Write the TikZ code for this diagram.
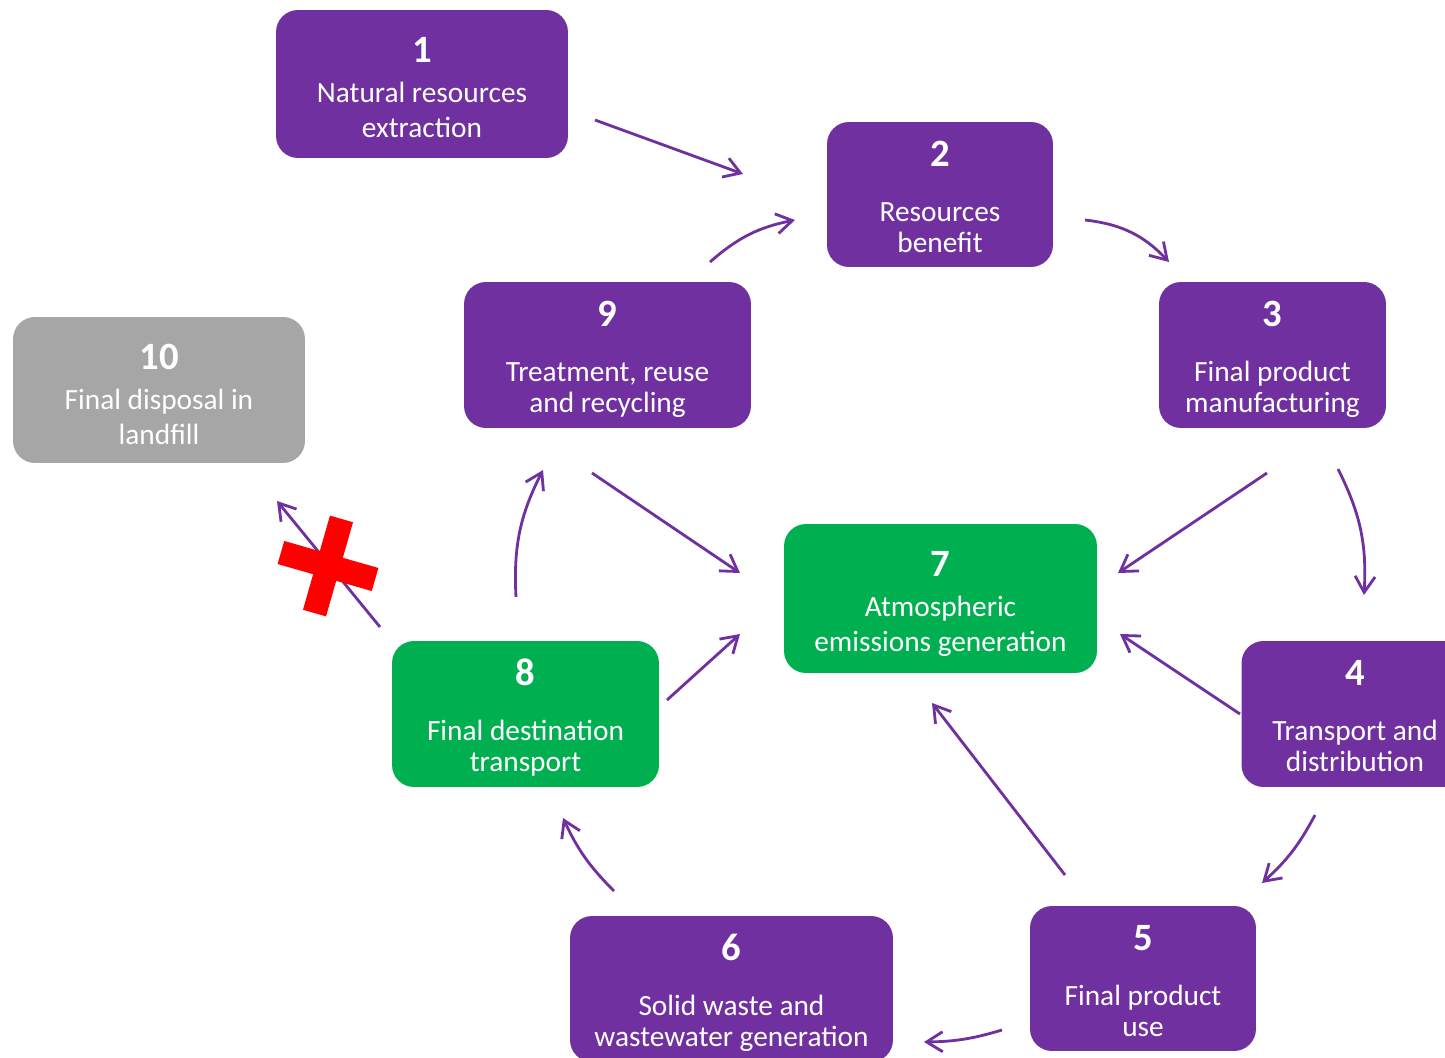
\documentclass[tikz,border=0pt]{standalone}
\usepackage{fontspec}
\setmainfont{Carlito}
\usetikzlibrary{calc, arrows.meta, positioning}
\definecolor{lilac}{HTML}{7030A0}
\definecolor{leaf}{HTML}{00B050}
\definecolor{ash}{HTML}{A6A6A6}

\begin{document}
\begin{tikzpicture}[x=0.02cm, y=-0.02cm, >={Straight Barb[length=3.2mm,width=4mm]},
  box/.style={rounded corners=0.44cm, minimum height=2.92cm, inner sep=0pt},
  num/.style={anchor=base, text=white, font=\fontsize{22}{26}\selectfont\bfseries},
  txt/.style={anchor=base, text=white, align=center, font=\fontsize{16.7}{17.6}\selectfont},
  txtwide/.style={txt, font=\fontsize{16.7}{19.85}\selectfont},
  flow/.style={->, lilac, line width=1.6pt},
  bar/.style={fill=red, inner sep=0pt, rotate=-16}]
\useasboundingbox (0,0) rectangle (1445,1058);
\clip (0,0) rectangle (1445,1058);

% stages (text placed by the baseline of its last line)
\node[box, fill=lilac, minimum width=5.84cm, minimum height=2.96cm] (b1) at (422,84) {};
\node[num] (n1) at ($(b1.north)+(0,53)$) {1};
\node[txtwide] (t1) at ($(b1.north)+(0,128)$) {Natural resources\\extraction};

\node[box, fill=lilac, minimum width=4.52cm, minimum height=2.9cm] (b2) at (940,194.5) {};
\node[num] (n2) at ($(b2.north)+(0,45)$) {2};
\node[txt] (t2) at ($(b2.north)+(0,131)$) {Resources\\benefit};

\node[box, fill=lilac, minimum width=4.54cm] (b3) at (1272.5,355) {};
\node[num] (n3) at ($(b3.north)+(0,45)$) {3};
\node[txt] (t3) at ($(b3.north)+(0,131)$) {Final product\\manufacturing};

\node[box, fill=lilac, minimum width=4.54cm] (b4) at (1355,714) {};
\node[num] (n4) at ($(b4.north)+(0,45)$) {4};
\node[txt] (t4) at ($(b4.north)+(0,131)$) {Transport and\\distribution};

\node[box, fill=lilac, minimum width=4.52cm, minimum height=2.9cm] (b5) at (1143,978.5) {};
\node[num] (n5) at ($(b5.north)+(0,45)$) {5};
\node[txt] (t5) at ($(b5.north)+(0,131)$) {Final product\\use};

\node[box, fill=lilac, minimum width=6.46cm] (b6) at (731.5,989) {};
\node[num] (n6) at ($(b6.north)+(0,45)$) {6};
\node[txt] (t6) at ($(b6.north)+(0,131)$) {Solid waste and\\wastewater generation};

\node[box, fill=leaf, minimum width=6.26cm, minimum height=2.98cm] (b7) at (940.5,598.5) {};
\node[num] (n7) at ($(b7.north)+(0,53)$) {7};
\node[txtwide] (t7) at ($(b7.north)+(0,128)$) {Atmospheric\\emissions generation};

\node[box, fill=leaf, minimum width=5.34cm] (b8) at (525.5,714) {};
\node[num] (n8) at ($(b8.north)+(0,45)$) {8};
\node[txt] (t8) at ($(b8.north)+(0,131)$) {Final destination\\transport};

\node[box, fill=lilac, minimum width=5.74cm] (b9) at (607.5,355) {};
\node[num] (n9) at ($(b9.north)+(0,45)$) {9};
\node[txt] (t9) at ($(b9.north)+(0,131)$) {Treatment, reuse\\and recycling};

\node[box, fill=ash, minimum width=5.84cm] (b10) at (159,390) {};
\node[num] (n10) at ($(b10.north)+(0,53)$) {10};
\node[txtwide] (t10) at ($(b10.north)+(0,128)$) {Final disposal in\\landfill};

% arrow ends
\coordinate (s12) at (595,120);   \coordinate (e12) at (743,174);
\coordinate (s23) at (1085,220);  \coordinate (e23) at (1169,262);
\coordinate (s34) at (1338,469);  \coordinate (e34) at (1364,595);
\coordinate (s37) at (1267,473);  \coordinate (e37) at (1118,573);
\coordinate (s45) at (1315,815);  \coordinate (e45) at (1262,883);
\coordinate (s47) at (1240,714);  \coordinate (e47) at (1120,634);
\coordinate (s56) at (1002,1030); \coordinate (e56) at (924,1042);
\coordinate (s57) at (1065,875);  \coordinate (e57) at (932,703);
\coordinate (s68) at (614,891);   \coordinate (e68) at (563,818);
\coordinate (s87) at (667,700);   \coordinate (e87) at (740,634);
\coordinate (s89) at (516,597);   \coordinate (e89) at (543,470);
\coordinate (s810) at (380,627);  \coordinate (e810) at (277,501);
\coordinate (s97) at (592,473);   \coordinate (e97) at (740,573);
\coordinate (s92) at (710,262);   \coordinate (e92) at (795,220);

\draw[flow] (s12) -- (e12);
\draw[flow] (s23) to[bend left=20] (e23);
\draw[flow] (s34) to[bend left=15] (e34);
\draw[flow] (s37) -- (e37);
\draw[flow] (s45) to[bend left=10] (e45);
\draw[flow] (s47) -- (e47);
\draw[flow] (s56) to[bend left=8] (e56);
\draw[flow] (s57) -- (e57);
\draw[flow] (s68) to[bend left=10] (e68);
\draw[flow] (s87) -- (e87);
\draw[flow] (s89) to[bend left=15] (e89);
\draw[flow] (s810) -- (e810);
\draw[flow] (s97) -- (e97);
\draw[flow] (s92) to[bend left=15] (e92);

% no landfill
\node[bar, minimum width=1.96cm, minimum height=0.48cm] (xa) at (328,566) {};
\node[bar, minimum width=0.48cm, minimum height=1.96cm] (xb) at (328,566) {};
\end{tikzpicture}
\end{document}
